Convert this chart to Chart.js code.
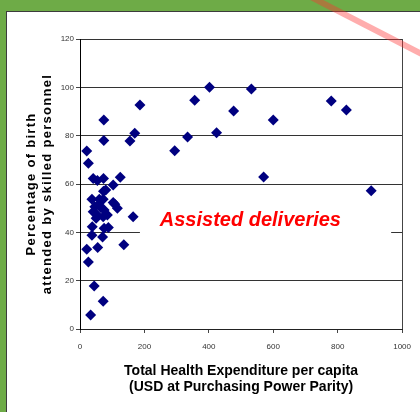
<!DOCTYPE html>
<html>
<head>
<meta charset="utf-8">
<script src="https://cdn.jsdelivr.net/npm/chart.js@4.4.1/dist/chart.umd.min.js"></script>
<style>
  html, body { margin: 0; padding: 0; }
  body { width: 420px; height: 412px; background: #6eab47; position: relative; overflow: hidden; }
  #panel { position: absolute; left: 6px; top: 11px; width: 430px; height: 420px; background: #fff; border: 1px solid #3c3c3c; }
  #wrap { position: absolute; left: 0; top: 0; width: 420px; height: 412px; }
  #slash { position: absolute; left: 307px; top: -8px; width: 200px; height: 6px; background: rgba(255, 50, 50, 0.4);
           transform: rotate(27.2deg); transform-origin: 0 50%; pointer-events: none; }
</style>
</head>
<body>
<div id="panel"></div>
<div id="wrap"><canvas id="chart" width="420" height="412"></canvas></div>
<div id="slash"></div>
<script>
// gasto total em saude per capita (USD PPP) e % de partos assistidos
const gasto = [
    74, 186, 170, 155, 74, 356, 402, 424, 477, 532, 600, 334, 294, 780, 827, 570, 904, 165, 136,
    21, 26, 41, 54, 73, 125, 103, 73, 80, 37, 60, 72, 103, 108, 116, 46, 58, 64, 75, 41, 50,
    85, 72, 50, 38, 88, 75, 37, 70, 55, 21, 26, 44, 72, 33
];
const partos = [
    86.5, 92.7, 81, 77.8, 78, 94.7, 100, 81.2, 90.2, 99.3, 86.5, 79.4, 73.8, 94.3, 90.6, 62.9, 57.2, 46.5, 34.9,
    73.7, 68.6, 62.3, 61.4, 62.3, 62.8, 59.6, 57, 57.5, 53.7, 53.7, 53.7, 52.3, 51.6, 50, 50.6, 51.5, 50.3, 49.2, 48.5, 47.6,
    47.2, 46.5, 45.8, 42.3, 42, 41.7, 38.8, 38.1, 33.7, 33, 27.7, 17.8, 11.5, 5.8
];
const xTicksMax = 1000;
const yTicksMax = 120;
const rotulo = 'Assisted deliveries';

const pontos = gasto.map((g, i) => ({ x: g, y: partos[i] }));

// caixa branca com o texto vermelho por cima da grade
const anotacao = {
    id: 'anotacao',
    beforeDatasetsDraw(chart) {
        const { ctx, scales } = chart;
        const x0 = scales.x.getPixelForValue(186), x1 = scales.x.getPixelForValue(966);
        const y0 = scales.y.getPixelForValue(53.5), y1 = scales.y.getPixelForValue(39.3);
        ctx.save();
        ctx.fillStyle = '#fff';
        ctx.fillRect(x0, y0, x1 - x0, y1 - y0);
        ctx.fillStyle = '#ff0000';
        ctx.font = 'italic bold 20px "Liberation Sans", Arial, sans-serif';
        ctx.textAlign = 'center';
        ctx.textBaseline = 'middle';
        ctx.fillText(rotulo, scales.x.getPixelForValue(529), scales.y.getPixelForValue(45.1));
        ctx.restore();
    }
};

// titulo do eixo y com letras mais espacadas
const espacamento = {
    id: 'espacamento',
    beforeDraw(chart) {
        const s = chart.scales.y;
        if (!s._espacado) {
            const original = s.drawTitle.bind(s);
            s.drawTitle = function () {
                chart.ctx.save();
                chart.ctx.letterSpacing = '1.3px';
                original();
                chart.ctx.restore();
            };
            s._espacado = true;
        }
    }
};

const ctx = document.getElementById('chart').getContext('2d');
const chart = new Chart(ctx, {
    type: 'scatter',
    data: {
        datasets: [{
            data: pontos,
            pointStyle: 'rectRot',
            pointRadius: 5.5,
            backgroundColor: '#000080',
            borderColor: '#000080',
            borderWidth: 0
        }]
    },
    options: {
        responsive: false,
        animation: false,
        layout: { padding: { left: 23, right: 14, top: 39, bottom: 16 } },
        plugins: { legend: { display: false }, tooltip: { enabled: false } },
        scales: {
            x: {
                min: 0, max: xTicksMax,
                afterFit(scale) { scale.height = 67; },
                ticks: { stepSize: 200, color: '#333', padding: 9, maxRotation: 0,
                         callback: v => String(v),
                         font: { family: '"Liberation Sans", Arial', size: 8 } },
                grid: { color: c => (c.tick && c.tick.value === xTicksMax) ? '#444' : 'transparent',
                        tickColor: '#444', tickLength: 4 },
                border: { color: '#222', width: 1 },
                title: {
                    display: true,
                    text: ['Total Health Expenditure per capita', '(USD at Purchasing Power Parity)'],
                    color: '#000',
                    padding: { top: 0, bottom: 0 },
                    font: { family: '"Liberation Sans", Arial', size: 14, weight: 'bold', lineHeight: 1.2 }
                }
            },
            y: {
                min: 0, max: yTicksMax,
                afterFit(scale) { scale.width = 57; },
                ticks: { stepSize: 20, color: '#333', padding: 2,
                         font: { family: '"Liberation Sans", Arial', size: 8 } },
                grid: { color: '#333', tickColor: '#444', tickLength: 4 },
                border: { color: '#000', width: 1 },
                title: {
                    display: true,
                    text: ['Percentage of birth', 'attended by skilled personnel'],
                    color: '#000',
                    padding: { top: 0, bottom: 0 },
                    font: { family: '"Liberation Sans", Arial', size: 13, weight: 'bold', lineHeight: 1.23 }
                }
            }
        }
    },
    plugins: [anotacao, espacamento]
});
</script>
</body>
</html>
